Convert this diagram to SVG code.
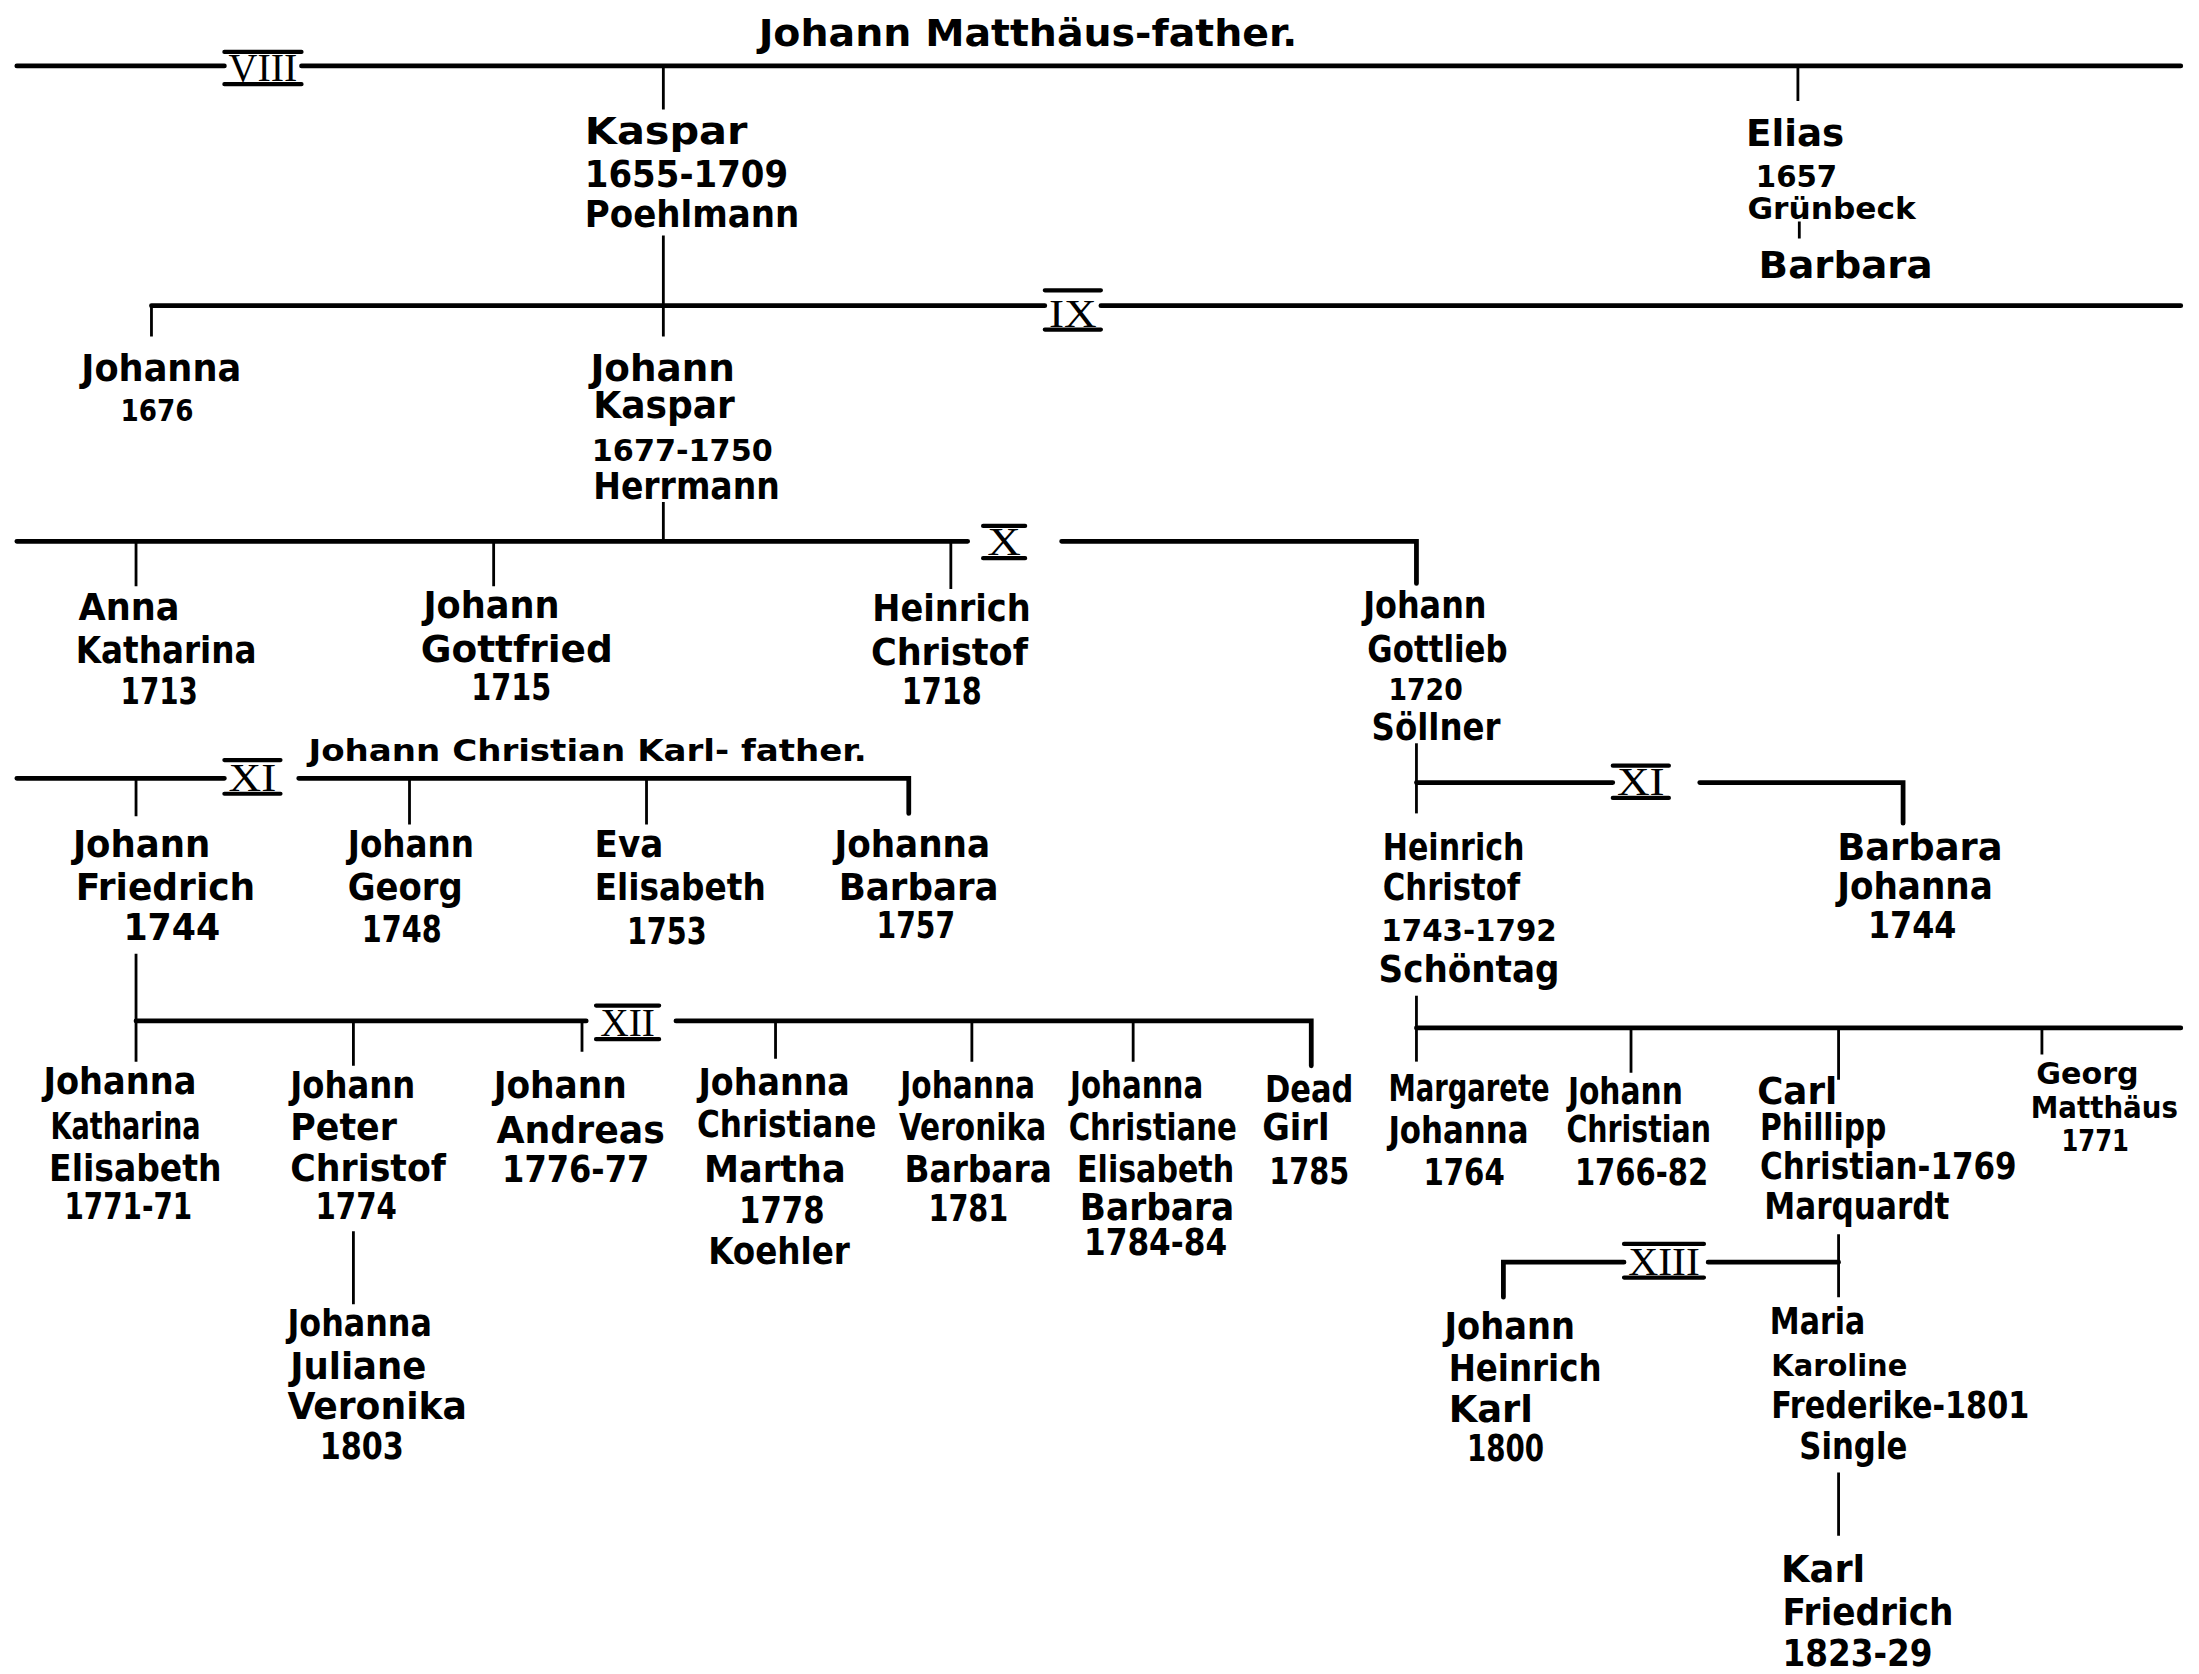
<svg xmlns="http://www.w3.org/2000/svg" width="2199" height="1674" viewBox="0 0 2199 1674">
<style>
text{font-family:"Liberation Sans Narrow","DejaVu Sans Condensed","Liberation Sans",sans-serif;font-weight:bold;fill:#000}
.b{font-size:27px}
.s{font-size:21px}
.r{font-family:"Liberation Serif","DejaVu Serif",serif;font-weight:normal;font-size:28px}
.h{stroke:#000;stroke-width:3.4;stroke-linecap:round;fill:none}
.v{stroke:#000;stroke-width:2;fill:none}
.bar{stroke:#000;stroke-width:3;stroke-linecap:round}
</style>
<rect width="2199" height="1674" fill="#fff"/>
<g transform="scale(1.40242)">
<g id="connectors">
<path class="h" d="M12 47H160M215 47H1555"/>
<path class="v" d="M473 47V78M1282 47V72M1283 158V170M473 168V240"/>
<path class="h" d="M108 218H745M785 218H1555"/>
<path class="v" d="M108 218V240M473 358V386"/>
<path class="h" d="M12 386H690M757 386H1010V416"/>
<path class="v" d="M97 386V418M352 386V418M678 386V420"/>
<path class="h" d="M12 555H160M213 555H648V580"/>
<path class="v" d="M97 555V582M292 555V588M461 555V588M97 680V728"/>
<path class="h" d="M97 728H418M482 728H935V760"/>
<path class="v" d="M97 728V757M252 728V760M415 728V750M553 728V755M693 728V757M808 728V757M252 878V930"/>
<path class="v" d="M1010 530V580"/>
<path class="h" d="M1010 558H1150M1212 558H1357V587"/>
<path class="v" d="M1010 710V757"/>
<path class="h" d="M1010 733H1555"/>
<path class="v" d="M1163 733V765M1311 733V770M1456 733V752"/>
<path class="h" d="M1072 925V900H1158M1218 900H1311"/>
<path class="v" d="M1311 880V925M1311 1050V1095"/>
</g>
<g id="numerals">
<g id="num-VIII"><path class="bar" d="M160 37H215M160 60H215"/><text class="r" x="163" y="58" textLength="49" lengthAdjust="spacingAndGlyphs">VIII</text></g>
<g id="num-IX"><path class="bar" d="M745 207H785M745 235H785"/><text class="r" x="748" y="233" textLength="34" lengthAdjust="spacingAndGlyphs">IX</text></g>
<g id="num-X"><path class="bar" d="M701 375H731M701 398H731"/><text class="r" x="704" y="396" textLength="24" lengthAdjust="spacingAndGlyphs">X</text></g>
<g id="num-XI-left"><path class="bar" d="M160 542H200M160 566H200"/><text class="r" x="163" y="564" textLength="34" lengthAdjust="spacingAndGlyphs">XI</text></g>
<g id="num-XII"><path class="bar" d="M425 717H470M425 741H470"/><text class="r" x="428" y="739" textLength="39" lengthAdjust="spacingAndGlyphs">XII</text></g>
<g id="num-XI-right"><path class="bar" d="M1150 546H1190M1150 569H1190"/><text class="r" x="1153" y="567" textLength="34" lengthAdjust="spacingAndGlyphs">XI</text></g>
<g id="num-XIII"><path class="bar" d="M1158 887H1215M1158 911H1215"/><text class="r" x="1161" y="909" textLength="51" lengthAdjust="spacingAndGlyphs">XIII</text></g>
</g>
<g id="title1"><text class="b" x="541" y="33" textLength="384" lengthAdjust="spacingAndGlyphs">Johann Matthäus-father.</text></g>
<g id="n-kaspar">
<text class="b" x="417" y="103" textLength="116" lengthAdjust="spacingAndGlyphs">Kaspar</text>
<text class="b" x="417" y="133" textLength="145" lengthAdjust="spacingAndGlyphs">1655-1709</text>
<text class="b" x="417" y="162" textLength="153" lengthAdjust="spacingAndGlyphs">Poehlmann</text>
</g>
<g id="n-elias">
<text class="b" x="1245" y="104" textLength="70" lengthAdjust="spacingAndGlyphs">Elias</text>
<text class="s" x="1252" y="133" textLength="58" lengthAdjust="spacingAndGlyphs">1657</text>
<text class="s" x="1246" y="156" textLength="120" lengthAdjust="spacingAndGlyphs">Grünbeck</text>
<text class="b" x="1254" y="198" textLength="124" lengthAdjust="spacingAndGlyphs">Barbara</text>
</g>
<g id="n-johanna-1676">
<text class="b" x="58" y="272" textLength="114" lengthAdjust="spacingAndGlyphs">Johanna</text>
<text class="s" x="86" y="300" textLength="52" lengthAdjust="spacingAndGlyphs">1676</text>
</g>
<g id="n-johann-kaspar">
<text class="b" x="421" y="272" textLength="103" lengthAdjust="spacingAndGlyphs">Johann</text>
<text class="b" x="423" y="298" textLength="101" lengthAdjust="spacingAndGlyphs">Kaspar</text>
<text class="s" x="422" y="329" textLength="129" lengthAdjust="spacingAndGlyphs">1677-1750</text>
<text class="b" x="423" y="356" textLength="133" lengthAdjust="spacingAndGlyphs">Herrmann</text>
</g>
<g id="n-anna-katharina">
<text class="b" x="56" y="442" textLength="72" lengthAdjust="spacingAndGlyphs">Anna</text>
<text class="b" x="54" y="473" textLength="129" lengthAdjust="spacingAndGlyphs">Katharina</text>
<text class="b" x="86" y="502" textLength="55" lengthAdjust="spacingAndGlyphs">1713</text>
</g>
<g id="n-johann-gottfried">
<text class="b" x="302" y="441" textLength="97" lengthAdjust="spacingAndGlyphs">Johann</text>
<text class="b" x="300" y="472" textLength="137" lengthAdjust="spacingAndGlyphs">Gottfried</text>
<text class="b" x="336" y="499" textLength="57" lengthAdjust="spacingAndGlyphs">1715</text>
</g>
<g id="n-heinrich-christof-1718">
<text class="b" x="622" y="443" textLength="113" lengthAdjust="spacingAndGlyphs">Heinrich</text>
<text class="b" x="621" y="474" textLength="112" lengthAdjust="spacingAndGlyphs">Christof</text>
<text class="b" x="643" y="502" textLength="57" lengthAdjust="spacingAndGlyphs">1718</text>
</g>
<g id="n-johann-gottlieb">
<text class="b" x="972" y="441" textLength="88" lengthAdjust="spacingAndGlyphs">Johann</text>
<text class="b" x="975" y="472" textLength="100" lengthAdjust="spacingAndGlyphs">Gottlieb</text>
<text class="s" x="990" y="499" textLength="53" lengthAdjust="spacingAndGlyphs">1720</text>
<text class="b" x="978" y="528" textLength="92" lengthAdjust="spacingAndGlyphs">Söllner</text>
</g>
<g id="title2"><text class="s" x="220" y="543" textLength="398" lengthAdjust="spacingAndGlyphs">Johann Christian Karl- father.</text></g>
<g id="n-johann-friedrich">
<text class="b" x="52" y="611" textLength="98" lengthAdjust="spacingAndGlyphs">Johann</text>
<text class="b" x="54" y="642" textLength="128" lengthAdjust="spacingAndGlyphs">Friedrich</text>
<text class="b" x="88" y="670" textLength="69" lengthAdjust="spacingAndGlyphs">1744</text>
</g>
<g id="n-johann-georg">
<text class="b" x="248" y="611" textLength="90" lengthAdjust="spacingAndGlyphs">Johann</text>
<text class="b" x="248" y="642" textLength="82" lengthAdjust="spacingAndGlyphs">Georg</text>
<text class="b" x="258" y="672" textLength="57" lengthAdjust="spacingAndGlyphs">1748</text>
</g>
<g id="n-eva-elisabeth">
<text class="b" x="424" y="611" textLength="49" lengthAdjust="spacingAndGlyphs">Eva</text>
<text class="b" x="424" y="642" textLength="122" lengthAdjust="spacingAndGlyphs">Elisabeth</text>
<text class="b" x="447" y="673" textLength="57" lengthAdjust="spacingAndGlyphs">1753</text>
</g>
<g id="n-johanna-barbara">
<text class="b" x="595" y="611" textLength="111" lengthAdjust="spacingAndGlyphs">Johanna</text>
<text class="b" x="598" y="642" textLength="114" lengthAdjust="spacingAndGlyphs">Barbara</text>
<text class="b" x="625" y="669" textLength="56" lengthAdjust="spacingAndGlyphs">1757</text>
</g>
<g id="n-johanna-katharina-elisabeth">
<text class="b" x="31" y="780" textLength="109" lengthAdjust="spacingAndGlyphs">Johanna</text>
<text class="b" x="36" y="812" textLength="107" lengthAdjust="spacingAndGlyphs">Katharina</text>
<text class="b" x="35" y="842" textLength="123" lengthAdjust="spacingAndGlyphs">Elisabeth</text>
<text class="b" x="46" y="869" textLength="91" lengthAdjust="spacingAndGlyphs">1771-71</text>
</g>
<g id="n-johann-peter-christof">
<text class="b" x="207" y="783" textLength="89" lengthAdjust="spacingAndGlyphs">Johann</text>
<text class="b" x="207" y="813" textLength="76" lengthAdjust="spacingAndGlyphs">Peter</text>
<text class="b" x="207" y="842" textLength="111" lengthAdjust="spacingAndGlyphs">Christof</text>
<text class="b" x="225" y="869" textLength="58" lengthAdjust="spacingAndGlyphs">1774</text>
</g>
<g id="n-johanna-juliane-veronika">
<text class="b" x="205" y="953" textLength="103" lengthAdjust="spacingAndGlyphs">Johanna</text>
<text class="b" x="207" y="983" textLength="97" lengthAdjust="spacingAndGlyphs">Juliane</text>
<text class="b" x="205" y="1012" textLength="128" lengthAdjust="spacingAndGlyphs">Veronika</text>
<text class="b" x="228" y="1040" textLength="60" lengthAdjust="spacingAndGlyphs">1803</text>
</g>
<g id="n-johann-andreas">
<text class="b" x="352" y="783" textLength="95" lengthAdjust="spacingAndGlyphs">Johann</text>
<text class="b" x="354" y="815" textLength="120" lengthAdjust="spacingAndGlyphs">Andreas</text>
<text class="b" x="358" y="843" textLength="105" lengthAdjust="spacingAndGlyphs">1776-77</text>
</g>
<g id="n-johanna-christiane-martha">
<text class="b" x="498" y="781" textLength="108" lengthAdjust="spacingAndGlyphs">Johanna</text>
<text class="b" x="497" y="811" textLength="128" lengthAdjust="spacingAndGlyphs">Christiane</text>
<text class="b" x="502" y="843" textLength="101" lengthAdjust="spacingAndGlyphs">Martha</text>
<text class="b" x="527" y="872" textLength="61" lengthAdjust="spacingAndGlyphs">1778</text>
<text class="b" x="505" y="901" textLength="101" lengthAdjust="spacingAndGlyphs">Koehler</text>
</g>
<g id="n-johanna-veronika-barbara">
<text class="b" x="642" y="783" textLength="96" lengthAdjust="spacingAndGlyphs">Johanna</text>
<text class="b" x="641" y="813" textLength="105" lengthAdjust="spacingAndGlyphs">Veronika</text>
<text class="b" x="645" y="843" textLength="105" lengthAdjust="spacingAndGlyphs">Barbara</text>
<text class="b" x="662" y="871" textLength="57" lengthAdjust="spacingAndGlyphs">1781</text>
</g>
<g id="n-johanna-christiane-elisabeth-barbara">
<text class="b" x="763" y="783" textLength="95" lengthAdjust="spacingAndGlyphs">Johanna</text>
<text class="b" x="762" y="813" textLength="120" lengthAdjust="spacingAndGlyphs">Christiane</text>
<text class="b" x="768" y="843" textLength="112" lengthAdjust="spacingAndGlyphs">Elisabeth</text>
<text class="b" x="770" y="870" textLength="110" lengthAdjust="spacingAndGlyphs">Barbara</text>
<text class="b" x="773" y="895" textLength="102" lengthAdjust="spacingAndGlyphs">1784-84</text>
</g>
<g id="n-dead-girl">
<text class="b" x="902" y="786" textLength="63" lengthAdjust="spacingAndGlyphs">Dead</text>
<text class="b" x="900" y="813" textLength="48" lengthAdjust="spacingAndGlyphs">Girl</text>
<text class="b" x="905" y="844" textLength="57" lengthAdjust="spacingAndGlyphs">1785</text>
</g>
<g id="n-heinrich-christof-1743">
<text class="b" x="986" y="613" textLength="101" lengthAdjust="spacingAndGlyphs">Heinrich</text>
<text class="b" x="986" y="642" textLength="98" lengthAdjust="spacingAndGlyphs">Christof</text>
<text class="s" x="985" y="671" textLength="125" lengthAdjust="spacingAndGlyphs">1743-1792</text>
<text class="b" x="983" y="700" textLength="129" lengthAdjust="spacingAndGlyphs">Schöntag</text>
</g>
<g id="n-barbara-johanna">
<text class="b" x="1310" y="613" textLength="118" lengthAdjust="spacingAndGlyphs">Barbara</text>
<text class="b" x="1310" y="641" textLength="111" lengthAdjust="spacingAndGlyphs">Johanna</text>
<text class="b" x="1332" y="669" textLength="63" lengthAdjust="spacingAndGlyphs">1744</text>
</g>
<g id="n-margarete-johanna">
<text class="b" x="990" y="785" textLength="115" lengthAdjust="spacingAndGlyphs">Margarete</text>
<text class="b" x="990" y="815" textLength="100" lengthAdjust="spacingAndGlyphs">Johanna</text>
<text class="b" x="1015" y="845" textLength="58" lengthAdjust="spacingAndGlyphs">1764</text>
</g>
<g id="n-johann-christian">
<text class="b" x="1118" y="787" textLength="82" lengthAdjust="spacingAndGlyphs">Johann</text>
<text class="b" x="1117" y="814" textLength="103" lengthAdjust="spacingAndGlyphs">Christian</text>
<text class="b" x="1123" y="845" textLength="95" lengthAdjust="spacingAndGlyphs">1766-82</text>
</g>
<g id="n-carl-phillipp">
<text class="b" x="1253" y="787" textLength="57" lengthAdjust="spacingAndGlyphs">Carl</text>
<text class="b" x="1255" y="813" textLength="90" lengthAdjust="spacingAndGlyphs">Phillipp</text>
<text class="b" x="1255" y="841" textLength="183" lengthAdjust="spacingAndGlyphs">Christian-1769</text>
<text class="b" x="1258" y="869" textLength="132" lengthAdjust="spacingAndGlyphs">Marquardt</text>
</g>
<g id="n-georg-matthaus">
<text class="s" x="1452" y="773" textLength="73" lengthAdjust="spacingAndGlyphs">Georg</text>
<text class="s" x="1448" y="797" textLength="105" lengthAdjust="spacingAndGlyphs">Matthäus</text>
<text class="s" x="1470" y="821" textLength="48" lengthAdjust="spacingAndGlyphs">1771</text>
</g>
<g id="n-johann-heinrich-karl">
<text class="b" x="1030" y="955" textLength="93" lengthAdjust="spacingAndGlyphs">Johann</text>
<text class="b" x="1033" y="985" textLength="109" lengthAdjust="spacingAndGlyphs">Heinrich</text>
<text class="b" x="1033" y="1014" textLength="60" lengthAdjust="spacingAndGlyphs">Karl</text>
<text class="b" x="1046" y="1042" textLength="55" lengthAdjust="spacingAndGlyphs">1800</text>
</g>
<g id="n-maria-karoline">
<text class="b" x="1262" y="951" textLength="68" lengthAdjust="spacingAndGlyphs">Maria</text>
<text class="s" x="1263" y="981" textLength="97" lengthAdjust="spacingAndGlyphs">Karoline</text>
<text class="b" x="1263" y="1011" textLength="184" lengthAdjust="spacingAndGlyphs">Frederike-1801</text>
<text class="b" x="1283" y="1040" textLength="77" lengthAdjust="spacingAndGlyphs">Single</text>
</g>
<g id="n-karl-friedrich">
<text class="b" x="1270" y="1128" textLength="60" lengthAdjust="spacingAndGlyphs">Karl</text>
<text class="b" x="1271" y="1159" textLength="122" lengthAdjust="spacingAndGlyphs">Friedrich</text>
<text class="b" x="1271" y="1188" textLength="107" lengthAdjust="spacingAndGlyphs">1823-29</text>
</g>
</g>
</svg>
